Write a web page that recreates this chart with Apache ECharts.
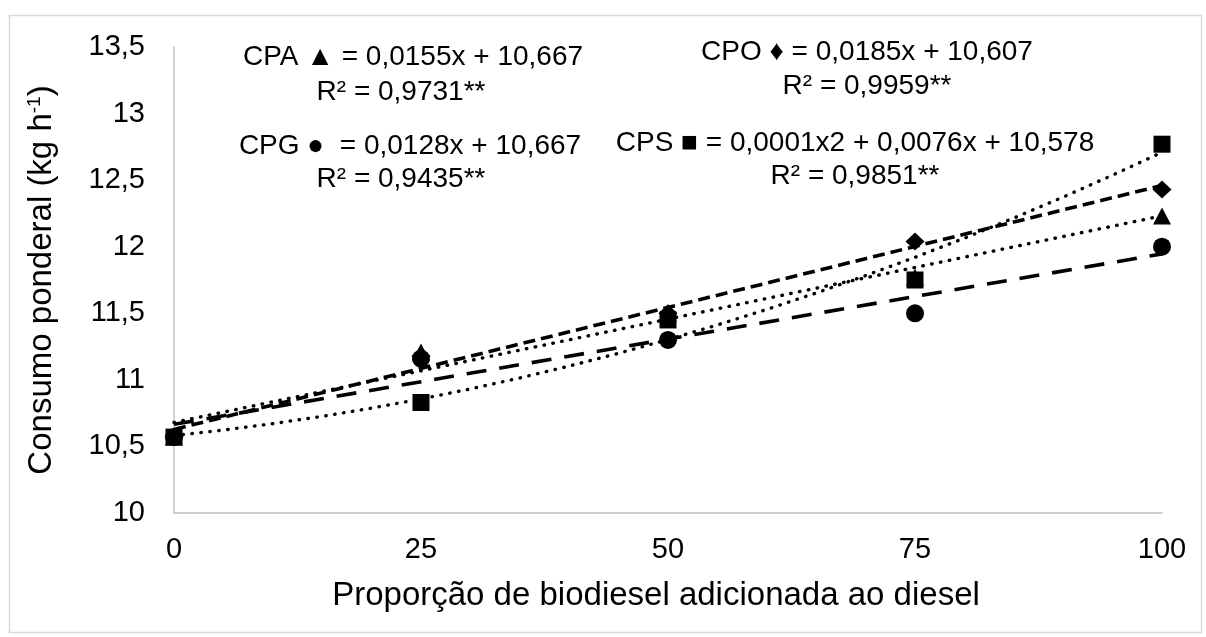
<!DOCTYPE html>
<html>
<head>
<meta charset="utf-8">
<title>Consumo ponderal</title>
<script src="https://cdn.jsdelivr.net/npm/echarts@6/dist/echarts.min.js"></script>
<style>
  html, body { margin: 0; padding: 0; background: #fff; }
  #chart { width: 1206px; height: 637px; }
</style>
</head>
<body>
<div id="chart"></div>
<script>
// proporção de biodiesel (%)
const proporcao = [0, 25, 50, 75, 100]

// consumo ponderal (kg h-1)
const cpa = [10.57, 11.21, 11.5, 11.77, 12.23]
const cpo = [10.57, 11.18, 11.5, 12.04, 12.43]
const cpg = [10.57, 11.16, 11.3, 11.5, 12.0]
const cps = [10.57, 10.83, 11.45, 11.75, 12.77]

const equations = [
  { text: 'CPA ▲ = 0,0155x + 10,667', x: 413, y: 57 },
  { text: 'R² = 0,9731**', x: 401, y: 92 },
  { text: 'CPG ●  = 0,0128x + 10,667', x: 410, y: 146 },
  { text: 'R² = 0,9435**', x: 401, y: 179 },
  { text: 'CPO ♦ = 0,0185x + 10,607', x: 867, y: 52 },
  { text: 'R² = 0,9959**', x: 867, y: 86 },
  { text: 'CPS ■ = 0,0001x2 + 0,0076x + 10,578', x: 855, y: 143 },
  { text: 'R² = 0,9851**', x: 855, y: 176 }
]

const FONT = 'Liberation Sans, Arial, sans-serif'

// least squares polynomial fit (degree 1 or 2), like excel's trendline
function polyfit(xs, ys, degree) {
  const n = degree + 1
  const m = []
  for (let r = 0; r < n; r++) {
    const row = []
    for (let c = 0; c < n; c++) {
      row.push(xs.reduce((s, x) => s + Math.pow(x, r + c), 0))
    }
    row.push(xs.reduce((s, x, i) => s + Math.pow(x, r) * ys[i], 0))
    m.push(row)
  }
  for (let i = 0; i < n; i++) {
    for (let k = i + 1; k < n; k++) {
      const f = m[k][i] / m[i][i]
      for (let j = i; j <= n; j++) m[k][j] -= f * m[i][j]
    }
  }
  const coef = new Array(n).fill(0)
  for (let i = n - 1; i >= 0; i--) {
    let s = m[i][n]
    for (let j = i + 1; j < n; j++) s -= m[i][j] * coef[j]
    coef[i] = s / m[i][i]
  }
  return (x) => coef.reduce((s, c, p) => s + c * Math.pow(x, p), 0)
}

function trendPoints(ys, degree) {
  const f = polyfit(proporcao, ys, degree)
  const lo = proporcao[0]
  const hi = proporcao[proporcao.length - 1]
  if (degree === 1) return [[lo, f(lo)], [hi, f(hi)]]
  const pts = []
  for (let x = lo; x <= hi; x += 5) pts.push([x, f(x)])
  return pts
}

const groups = [
  { name: 'CPO', values: cpo, symbol: 'diamond', size: [19, 18], degree: 1, line: { type: [12, 6], width: 3.6, cap: 'butt' } },
  { name: 'CPA', values: cpa, symbol: 'triangle', size: [18, 17], degree: 1, line: { type: [0.5, 8.5], width: 3.4, cap: 'round' } },
  { name: 'CPG', values: cpg, symbol: 'circle', size: 18, degree: 1, line: { type: [20, 13], width: 3.6, cap: 'butt' } },
  { name: 'CPS', values: cps, symbol: 'rect', size: 17, degree: 2, line: { type: [0.5, 8.5], width: 3.4, cap: 'round' } }
]

const series = []
groups.forEach((g) => {
  series.push({
    name: g.name + ' trend',
    type: 'line',
    data: trendPoints(g.values, g.degree),
    showSymbol: false,
    smooth: false,
    silent: true,
    z: 2,
    lineStyle: { color: '#000', width: g.line.width, type: g.line.type, cap: g.line.cap }
  })
})
groups.forEach((g, i) => {
  series.push({
    name: g.name,
    type: 'scatter',
    data: proporcao.map((x, k) => [x, g.values[k]]),
    symbol: g.symbol,
    symbolSize: g.size,
    z: 3 + i,
    itemStyle: { color: '#000', opacity: 1 }
  })
})

const chart = echarts.init(document.getElementById('chart'), null, { renderer: 'canvas' })

chart.setOption({
  animation: false,
  backgroundColor: '#fff',
  textStyle: { fontFamily: FONT },
  grid: { left: 174, right: 44, top: 47, bottom: 124, containLabel: false },
  xAxis: {
    type: 'value',
    min: 0,
    max: 100,
    interval: 25,
    name: 'Proporção de biodiesel adicionada ao diesel',
    nameLocation: 'middle',
    nameGap: 66,
    nameTextStyle: { color: '#000', fontSize: 33, fontFamily: FONT, padding: [0, 24, 0, 0] },
    axisLine: { show: true, lineStyle: { color: '#bfbfbf', width: 1.5 } },
    axisTick: { show: false },
    splitLine: { show: false },
    axisLabel: { color: '#000', fontSize: 29, margin: 22, fontFamily: FONT }
  },
  yAxis: {
    type: 'value',
    min: 10,
    max: 13.5,
    interval: 0.5,
    name: '{t|Consumo ponderal (kg h}{s|-1}{t|)}',
    nameLocation: 'middle',
    nameRotate: 90,
    nameGap: 116,
    nameTextStyle: {
      rich: {
        t: { color: '#000', fontSize: 33, fontFamily: FONT },
        s: { color: '#000', fontSize: 19, fontFamily: FONT, verticalAlign: 'top', padding: [0, 0, 12, 0] }
      }
    },
    axisLine: { show: true, lineStyle: { color: '#bfbfbf', width: 1.5 } },
    axisTick: { show: false },
    splitLine: { show: false },
    axisLabel: {
      color: '#000',
      fontSize: 29,
      margin: 29,
      fontFamily: FONT,
      formatter: (v) => String(v).replace('.', ',')
    }
  },
  graphic: [
    {
      type: 'rect',
      left: 7,
      top: 13,
      shape: { width: 1192, height: 617 },
      style: { fill: 'none', stroke: '#d9d9d9', lineWidth: 1.5 },
      silent: true
    },
    ...equations.map((e) => ({
      type: 'text',
      x: e.x,
      y: e.y,
      silent: true,
      style: {
        text: e.text,
        fill: '#000',
        font: '28px ' + FONT,
        textAlign: 'center',
        textVerticalAlign: 'middle'
      }
    }))
  ],
  series
})
</script>
</body>
</html>
